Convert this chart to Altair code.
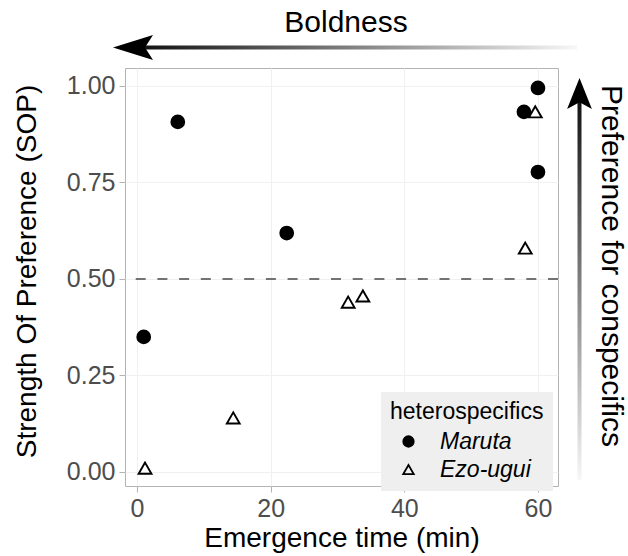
import altair as alt
import pandas as pd

# ---- data ----
hetero = ["Maruta"] * 6 + ["Ezo-ugui"] * 6
emergence = [1.0, 6.1, 22.4, 57.9, 60.0, 60.0,
             1.2, 14.4, 31.6, 33.8, 58.1, 59.6]
sop = [0.350, 0.907, 0.619, 0.933, 0.995, 0.777,
       0.010, 0.140, 0.440, 0.456, 0.580, 0.933]
species_order = ["Maruta", "Ezo-ugui"]
x_ticks = [0, 20, 40, 60]
y_ticks = [0.0, 0.25, 0.5, 0.75, 1.0]
hline_value = [0.5]
top_label = ["Boldness"]
right_label = ["Preference for conspecifics"]

df = pd.DataFrame({"hetero": hetero, "time": emergence, "sop": sop})
hline_df = pd.DataFrame({"sop": hline_value})
one = pd.DataFrame({"a": [0]})

FONT = "Liberation Sans"
X_TITLE = "Emergence time (min)"
Y_TITLE = "Strength Of Preference (SOP)"
LEG_TITLE = "heterospecifics"

xscale = alt.Scale(domain=[-1.8, 63.0], nice=False, zero=False)
yscale = alt.Scale(domain=[-0.0363, 1.0466], nice=False, zero=False)

xaxis = alt.Axis(values=x_ticks, title=X_TITLE, format="d",
                 titleBaseline="alphabetic", titleY=60)
yaxis = alt.Axis(values=y_ticks, title=Y_TITLE, format=".2f",
                 titleBaseline="alphabetic", titleX=-90, titleY=203, titleAngle=-90)

hline = alt.Chart(hline_df).mark_rule(
    color="#737373", strokeDash=[10, 11.7], strokeWidth=1.8
).encode(y=alt.Y("sop:Q", scale=yscale, axis=yaxis))

points = alt.Chart(df).mark_point(
    strokeWidth=1.9, size=165, opacity=1
).encode(
    x=alt.X("time:Q", scale=xscale, axis=xaxis),
    y=alt.Y("sop:Q", scale=yscale, axis=yaxis),
    shape=alt.Shape("hetero:N", title=LEG_TITLE,
                    scale=alt.Scale(domain=species_order, range=["circle", "triangle-up"])),
    fill=alt.Fill("hetero:N", title=LEG_TITLE,
                  scale=alt.Scale(domain=species_order, range=["black", "transparent"])),
    stroke=alt.Stroke("hetero:N", title=LEG_TITLE,
                      scale=alt.Scale(domain=species_order, range=["black", "black"])),
)

# ---- annotation arrows (pixel positions relative to the plot area) ----
grad_h = alt.Gradient(gradient="linear",
                      stops=[alt.GradientStop(color="#111111", offset=0),
                             alt.GradientStop(color="#f7f7f7", offset=1)],
                      x1=0, x2=1, y1=0, y2=0)
grad_v = alt.Gradient(gradient="linear",
                      stops=[alt.GradientStop(color="#111111", offset=0),
                             alt.GradientStop(color="#f7f7f7", offset=1)],
                      x1=0, x2=0, y1=0, y2=1)

shaft_h = alt.Chart(one).mark_rect(fill=grad_h).encode(
    x=alt.value(15), x2=alt.value(452), y=alt.value(-22.5), y2=alt.value(-18.5))
head_h = alt.Chart(one).mark_point(
    shape="M-1,0L1,-0.62L0.6,0L1,0.62Z", filled=True, color="black", opacity=1, size=1600
).encode(x=alt.value(8), y=alt.value(-20.5))

shaft_v = alt.Chart(one).mark_rect(fill=grad_v).encode(
    x=alt.value(452.5), x2=alt.value(456.5), y=alt.value(30), y2=alt.value(412))
head_v = alt.Chart(one).mark_point(
    shape="M0,-1L0.8,1L0,0.56L-0.8,1Z", filled=True, color="black", opacity=1, size=961
).encode(x=alt.value(454.5), y=alt.value(25.5))

text_top = alt.Chart(pd.DataFrame({"label": top_label})).mark_text(
    font=FONT, fontSize=30, align="center", baseline="alphabetic", color="black"
).encode(x=alt.value(221), y=alt.value(-36), text="label:N")

text_right = alt.Chart(pd.DataFrame({"label": right_label})).mark_text(
    font=FONT, fontSize=30, align="center", baseline="alphabetic", color="black", angle=90
).encode(x=alt.value(477), y=alt.value(198), text="label:N")

chart = alt.layer(
    hline, points, shaft_h, head_h, shaft_v, head_v, text_top, text_right
).properties(
    width=433, height=418,
    autosize=alt.AutoSizeParams(type="none"),
    padding={"left": 125, "top": 68, "right": 70, "bottom": 70},
    background="white",
).configure(font=FONT).configure_view(
    stroke="#b3b3b3", strokeWidth=1
).configure_axis(
    grid=True, gridColor="#f0f0f0", gridWidth=1,
    domain=False,
    ticks=True, tickColor="#b3b3b3", tickSize=6, tickWidth=1,
    labelFont=FONT, labelFontSize=25, labelColor="#4d4d4d", labelPadding=4,
    titleFont=FONT, titleFontSize=28, titleColor="black", titleFontWeight="normal",
).configure_legend(
    orient="none", legendX=256, legendY=324,
    fillColor="#efefef", padding=9,
    titleFont=FONT, titleFontSize=23, titleFontWeight="normal", titleColor="black",
    titlePadding=6,
    labelFont=FONT, labelFontSize=23, labelFontStyle="italic", labelColor="black",
    symbolSize=110, symbolStrokeWidth=1.8,
    symbolOffset=7, labelOffset=20, rowPadding=4,
)

chart.save("out.html", embed_options={"renderer": "svg", "actions": False})
